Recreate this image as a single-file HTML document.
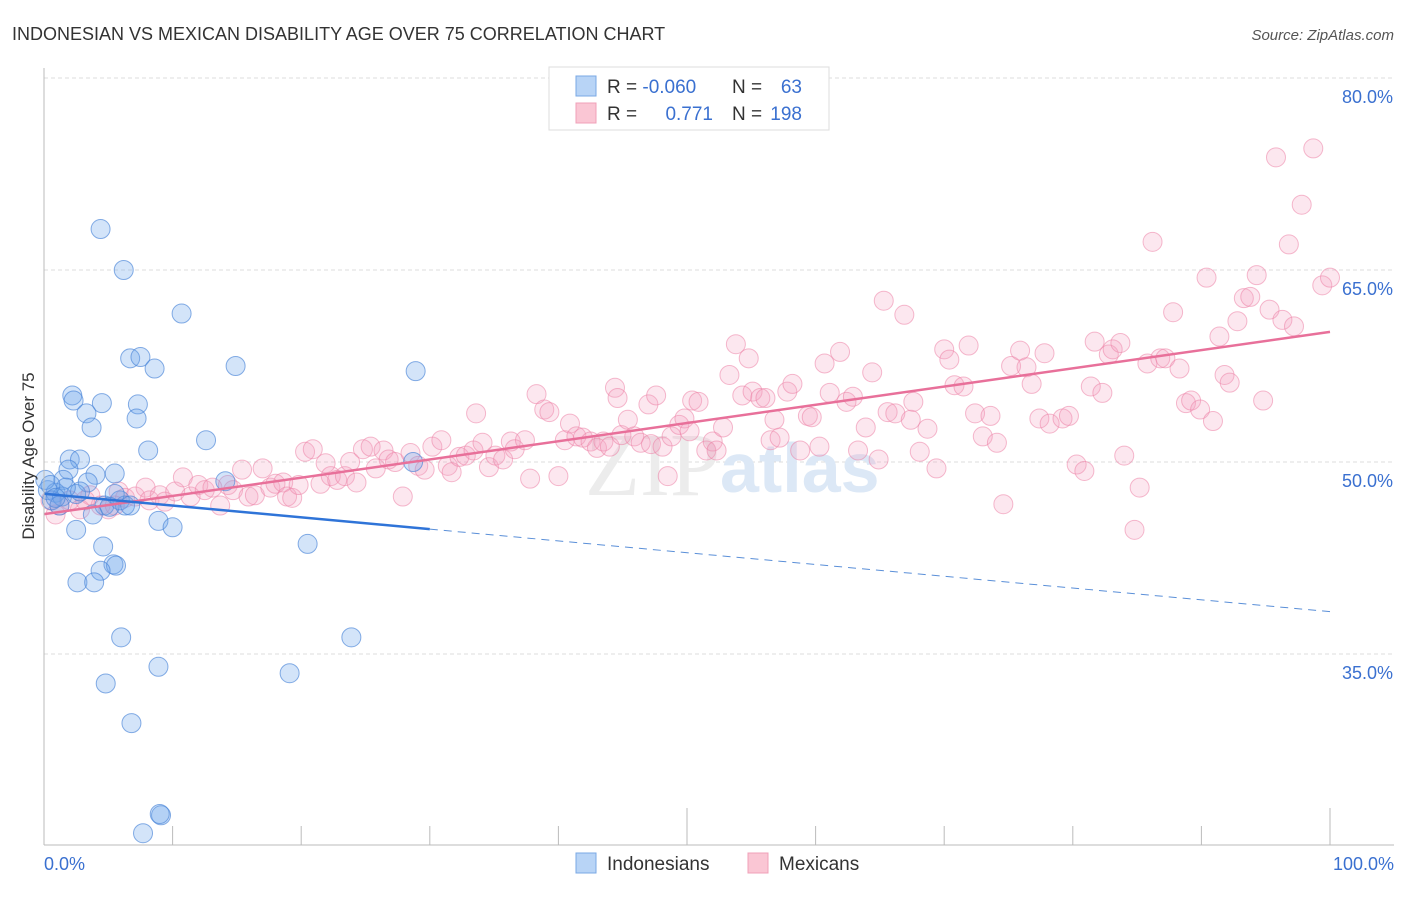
<!DOCTYPE html>
<html><head><meta charset="utf-8"><style>
body{margin:0;background:#fff;font-family:"Liberation Sans",sans-serif}
</style></head><body>
<svg width="1406" height="892" xmlns="http://www.w3.org/2000/svg" font-family="Liberation Sans, sans-serif">
<text x="12" y="40" font-size="18" fill="#333">INDONESIAN VS MEXICAN DISABILITY AGE OVER 75 CORRELATION CHART</text>
<text x="1394" y="40" font-size="15" fill="#555" font-style="italic" text-anchor="end">Source: ZipAtlas.com</text>
<g id="grid"></g>
<text x="720" y="495" font-size="90" fill="#ececec" text-anchor="end" font-family="Liberation Serif, serif">ZIP</text>
<text x="720" y="492" font-size="70" fill="#dce8f6" font-weight="bold">atlas</text>
<g id="pts"></g>
<g id="trend"></g>
<g id="axes"></g>
<text transform="translate(34,456) rotate(-90)" font-size="17" fill="#333" text-anchor="middle">Disability Age Over 75</text>
<g>
<rect x="549" y="67" width="280" height="63" fill="#fff" stroke="#ddd"/>
<rect x="576" y="76" width="20" height="20" fill="#b8d4f6" stroke="#7aa8e4"/>
<rect x="576" y="103" width="20" height="20" fill="#fac6d4" stroke="#f0a0b8"/>
<text x="607" y="93" font-size="19" fill="#333">R = <tspan fill="#3a70d0">-0.060</tspan></text>
<text x="732" y="93" font-size="19" fill="#333">N = </text><text x="802" y="93" font-size="19" fill="#3a70d0" text-anchor="end">63</text>
<text x="607" y="120" font-size="19" fill="#333">R = </text><text x="713" y="120" font-size="19" fill="#3a70d0" text-anchor="end">0.771</text>
<text x="732" y="120" font-size="19" fill="#333">N = </text><text x="802" y="120" font-size="19" fill="#3a70d0" text-anchor="end">198</text>
</g>
<g>
<rect x="576" y="853" width="20" height="20" fill="#b8d4f6" stroke="#7aa8e4"/>
<text x="607" y="870" font-size="19" fill="#333">Indonesians</text>
<rect x="748" y="853" width="20" height="20" fill="#fac6d4" stroke="#f0a0b8"/>
<text x="779" y="870" font-size="19" fill="#333">Mexicans</text>
</g>
</svg>
<script>
const yTicks=[35,50,65,80];
const yTickLabels=["35.0%","50.0%","65.0%","80.0%"];
const xTickLabels=["0.0%","100.0%"];
const indoX=[4.4,6.2,10.7,6.7,7.5,8.6,14.9,28.9,2.2,2.3,4.5,3.3,7.3,7.2,3.7,12.6,8.1,2.0,2.8,1.9,4.0,5.5,1.5,3.4,14.1,28.7,0.3,0.9,0.6,1.4,2.5,2.8,4.7,5.9,6.3,3.8,8.9,10.0,2.5,4.6,20.5,5.4,5.6,4.4,2.6,3.9,6.0,23.9,8.9,4.8,19.1,6.8,9.1,7.7,9.0,1.2,1.7,0.1,0.5,0.9,5.5,5.1,6.7];
const indoY=[68.2,65.0,61.6,58.1,58.2,57.3,57.5,57.1,55.2,54.8,54.6,53.8,54.5,53.4,52.7,51.7,50.9,50.2,50.2,49.4,49.0,49.1,48.6,48.4,48.5,50.0,47.8,47.6,47.0,47.3,47.5,47.7,46.6,47.0,46.6,45.9,45.4,44.9,44.7,43.4,43.6,42.0,41.9,41.5,40.6,40.6,36.3,36.3,34.0,32.7,33.5,29.6,22.4,21.0,22.5,46.6,48.0,48.6,48.2,47.2,47.5,46.5,46.6];
const mexX=[0.9,1.2,2.0,2.8,3.6,4.4,5.0,5.8,6.3,7.1,7.9,8.2,9.0,9.4,10.2,10.8,11.4,12.0,12.5,13.1,13.7,14.3,14.7,15.4,15.9,16.4,17.0,17.6,18.0,18.6,18.9,19.3,19.8,20.3,20.9,21.5,21.9,22.3,22.8,23.4,23.8,24.3,24.8,25.4,25.8,26.4,26.8,27.3,27.9,28.5,29.1,29.6,30.2,30.9,31.4,31.7,32.3,32.8,33.4,33.6,34.1,34.6,35.1,35.7,36.3,36.6,37.4,37.8,38.3,38.9,39.3,40.0,40.5,40.9,41.4,41.9,42.5,43.0,43.5,44.0,44.4,44.6,44.9,45.4,45.9,46.4,47.0,47.2,47.6,48.1,48.5,48.8,49.4,49.8,50.2,50.4,50.9,51.5,52.0,52.3,52.8,53.3,53.8,54.3,54.8,55.1,55.7,56.1,56.5,56.8,57.2,57.8,58.2,58.8,59.4,59.7,60.3,60.7,61.1,61.9,62.4,62.9,63.3,63.9,64.4,64.9,65.3,65.6,66.2,66.9,67.4,67.6,68.1,68.7,69.4,70.0,70.4,70.8,71.5,71.9,72.4,73.0,73.6,74.1,74.6,75.2,75.9,76.4,76.8,77.4,77.8,78.2,79.2,79.7,80.3,80.9,81.4,81.7,82.3,82.8,83.1,83.7,84.0,84.8,85.2,85.8,86.2,86.8,87.2,87.8,88.3,88.8,89.2,89.9,90.4,90.9,91.4,91.8,92.2,92.8,93.3,93.8,94.3,94.8,95.3,95.8,96.3,96.8,97.2,97.8,98.7,99.4,100.0,0.5,3.2,5.5];
const mexY=[45.9,46.6,47.0,46.3,47.4,46.6,46.3,47.7,47.2,47.3,48.0,47.0,47.4,46.9,47.7,48.8,47.3,48.2,47.8,48.0,46.6,48.2,47.8,49.4,47.3,47.4,49.5,48.0,48.3,48.4,47.3,47.2,48.2,50.8,51.0,48.3,49.9,48.9,48.6,48.9,50.0,48.4,51.0,51.2,49.5,50.9,50.2,50.0,47.3,50.7,49.7,49.4,51.2,51.7,49.7,49.2,50.4,50.5,50.9,53.8,51.5,49.6,50.5,50.2,51.6,51.0,51.7,48.7,55.3,54.1,53.9,48.9,51.7,53.0,52.0,51.9,51.6,51.1,51.6,51.2,55.8,55.0,52.1,53.3,52.0,51.5,54.5,51.4,55.2,51.2,48.9,52.0,52.9,53.4,52.4,54.8,54.7,50.9,51.6,50.9,52.7,56.8,59.2,55.2,58.1,55.5,55.0,55.0,51.7,53.3,51.9,55.5,56.1,50.9,53.6,53.5,51.2,57.7,55.4,58.6,54.7,55.1,50.9,52.7,57.0,50.2,62.6,53.9,53.8,61.5,53.3,54.7,50.8,52.6,49.5,58.8,58.0,56.0,55.9,59.1,53.8,52.0,53.6,51.5,46.7,57.5,58.7,57.4,56.1,53.4,58.5,53.0,53.4,53.6,49.8,49.3,55.9,59.4,55.4,58.4,58.8,59.3,50.5,44.7,48.0,57.7,67.2,58.1,58.1,61.7,57.3,54.6,54.8,54.1,64.4,53.2,59.8,56.8,56.2,61.0,62.8,62.9,64.6,54.8,61.9,73.8,61.1,67.0,60.6,70.1,74.5,63.8,64.4,47.0,47.0,46.6];
const NS="http://www.w3.org/2000/svg";
const X0=44,X1=1330,YB=845;
const sx=v=>X0+v*(X1-X0)/100;
const sy=v=>462-(v-50)*12.8;
function mk(tag,attrs,parent){const e=document.createElementNS(NS,tag);for(const k in attrs)e.setAttribute(k,attrs[k]);parent.appendChild(e);return e;}
const grid=document.getElementById('grid'),axes=document.getElementById('axes'),pts=document.getElementById('pts'),trend=document.getElementById('trend');
yTicks.forEach((t,i)=>{
 const l=mk('line',{x1:X0,x2:1394,y1:sy(t),y2:sy(t),stroke:'#ddd','stroke-dasharray':'4,3'},grid);
 
 
 const tx=mk('text',{x:1393,y:sy(t)+25,'font-size':18,fill:'#3a70d0','text-anchor':'end'},axes);
 tx.textContent=yTickLabels[i];
 
 
});
mk('line',{x1:X0,x2:X0,y1:68,y2:YB,stroke:'#bbb'},axes);
mk('line',{x1:X0,x2:1394,y1:YB,y2:YB,stroke:'#bbb'},axes);
for(let i=1;i<=10;i++){const x=sx(i*10);mk('line',{x1:x,x2:x,y1:(i==5||i==10)?808:826,y2:YB,stroke:'#bbb'},axes);}
[[0,'start',44],[100,'end',1394]].forEach((d,i)=>{const tx=mk('text',{x:d[2],y:870,'font-size':18,fill:'#3a70d0','text-anchor':d[1]},axes);tx.textContent=xTickLabels[i];
 
 });
function drawPts(xs,ys,fill,stroke,name){xs.forEach((x,i)=>{const c=mk('circle',{cx:sx(x),cy:sy(ys[i]),r:9.5,fill:fill,stroke:stroke,'stroke-width':1},pts);
 
 });}
drawPts(mexX,mexY,'rgba(245,160,190,0.25)','rgba(236,130,165,0.55)','mexican-point');
drawPts(indoX,indoY,'rgba(110,165,235,0.3)','rgba(70,130,215,0.65)','indonesian-point');
function reg(xs,ys){const n=xs.length;let mx=0,my=0;for(let i=0;i<n;i++){mx+=xs[i];my+=ys[i];}mx/=n;my/=n;let a=0,b=0;for(let i=0;i<n;i++){a+=(xs[i]-mx)*(ys[i]-my);b+=(xs[i]-mx)**2;}const s=a/b;return [my-s*mx,s];}
const [mi,ms]=reg(mexX,mexY);
const pl=mk('line',{x1:sx(0),y1:sy(mi),x2:sx(100),y2:sy(mi+100*ms),stroke:'#e8709a','stroke-width':2.5},trend);


const [bi,bs]=reg(indoX,indoY);
const b1=mk('line',{x1:sx(0),y1:sy(bi),x2:sx(30),y2:sy(bi+30*bs),stroke:'#2f74d8','stroke-width':2.5},trend);


const b2=mk('line',{x1:sx(30),y1:sy(bi+30*bs),x2:sx(100),y2:sy(bi+100*bs),stroke:'#5a8fd8','stroke-width':1,'stroke-dasharray':'8,6'},trend);


</script>
</body></html>
